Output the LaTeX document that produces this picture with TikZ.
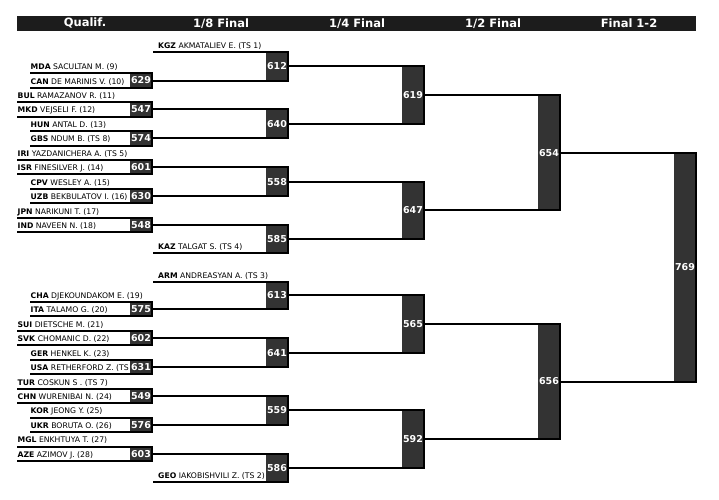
\documentclass[tikz,border=0pt]{standalone}
\usepackage{fontspec}
\setmainfont{DejaVu Sans}
\usetikzlibrary{fit}

\definecolor{barblack}{HTML}{1C1C1C}
\definecolor{boxgray}{HTML}{333333}

\tikzset{
    player/.style={anchor=south west, inner xsep=0.5pt, inner ysep=3.5pt, text depth=0pt, font=\fontsize{7.7}{9}\selectfont},
    seeded/.style={player, inner xsep=5pt},
    gamebox/.style={fill=boxgray, minimum width=22pt, outer sep=0pt},
    gamenum/.style={inner sep=0pt, text=white, font=\bfseries\fontsize{9.5}{10}\selectfont},
    bracket/.style={line width=2pt},
    colhead/.style={text=white, font=\bfseries\fontsize{11.5}{12}\selectfont}
}

% box of a bout, then the bracket that feeds it
\newcommand{\game}[5]{%
    \node[inner sep=0pt, fit={(#3 -| #2)(#4 -| #2)}, gamebox, label={[gamenum]center:#5}] (#1) {};
    \draw[bracket] (#3) -- (#3 -| #1.east) |- (#4);
}

\begin{document}
\begin{tikzpicture}[x=1pt, y=-1pt]
    \useasboundingbox (0,0) rectangle (719,499);

    % Header
    \node[fill=barblack, minimum width=679pt, minimum height=14.5pt, inner sep=0pt, anchor=north west] (bar) at (17,16) {};
    \foreach \cx/\lbl [count=\c] in {85/Qualif., 221/{1/8 Final}, 357/{1/4 Final}, 493/{1/2 Final}, 629/{Final 1-2}}
        \node[colhead] (head\c) at (\cx,23.2) {\lbl};

    % box columns
    \coordinate (k1) at (141,0);
    \coordinate (k2) at (277,0);
    \coordinate (k3) at (413,0);
    \coordinate (k4) at (549,0);
    \coordinate (k5) at (685,0);

    % Qualification, upper half
    \foreach \x/\cc/\who [count=\k from 0] in {30/MDA/SACULTAN M. (9), 30/CAN/DE MARINIS V. (10), 17/BUL/RAMAZANOV R. (11), 17/MKD/VEJSELI F. (12), 30/HUN/ANTAL D. (13), 30/GBS/NDUM B. (TS 8), 17/IRI/YAZDANICHERA A. (TS 5), 17/ISR/FINESILVER J. (14), 30/CPV/WESLEY A. (15), 30/UZB/BEKBULATOV I. (16), 17/JPN/NARIKUNI T. (17), 17/IND/NAVEEN N. (18)}
        \node[player] (\cc) at (\x,{73.3+14.45*\k}) {\textbf{\cc} \who};

    % Qualification, lower half
    \foreach \x/\cc/\who [count=\k from 0] in {30/CHA/DJEKOUNDAKOM E. (19), 30/ITA/TALAMO G. (20), 17/SUI/DIETSCHE M. (21), 17/SVK/CHOMANIC D. (22), 30/GER/HENKEL K. (23), 30/USA/RETHERFORD Z. (TS, 17/TUR/COSKUN S . (TS 7), 17/CHN/WURENIBAI N. (24), 30/KOR/JEONG Y. (25), 30/UKR/BORUTA O. (26), 17/MGL/ENKHTUYA T. (27), 17/AZE/AZIMOV J. (28)}
        \node[player] (\cc) at (\x,{302+14.45*\k}) {\textbf{\cc} \who};

    % Seeds straight into 1/8
    \node[seeded] (KGZ) at (153,51.7) {\textbf{KGZ} AKMATALIEV E. (TS 1)};
    \node[seeded] (KAZ) at (153,253) {\textbf{KAZ} TALGAT S. (TS 4)};
    \node[seeded] (ARM) at (153,281.7) {\textbf{ARM} ANDREASYAN A. (TS 3)};
    \node[seeded] (GEO) at (153,481.7) {\textbf{GEO} IAKOBISHVILI Z. (TS 2)};

    % Qualif.
    \foreach \n/\a/\b in {629/MDA/CAN, 547/BUL/MKD, 574/HUN/GBS, 601/IRI/ISR, 630/CPV/UZB, 548/JPN/IND, 575/CHA/ITA, 602/SUI/SVK, 631/GER/USA, 549/TUR/CHN, 576/KOR/UKR, 603/MGL/AZE}
        {\game{g\n}{k1}{\a.south west}{\b.south west}{\n}}

    % 1/8 Final
    \foreach \n/\a/\b in {612/KGZ.south west/g629.east, 640/g547.east/g574.east, 558/g601.east/g630.east, 585/g548.east/KAZ.south west, 613/ARM.south west/g575.east, 641/g602.east/g631.east, 559/g549.east/g576.east, 586/g603.east/GEO.south west}
        {\game{g\n}{k2}{\a}{\b}{\n}}

    % 1/4 Final
    \foreach \n/\a/\b in {619/g612/g640, 647/g558/g585, 565/g613/g641, 592/g559/g586}
        {\game{g\n}{k3}{\a.east}{\b.east}{\n}}

    % 1/2 Final
    \game{g654}{k4}{g619.east}{g647.east}{654}
    \game{g656}{k4}{g565.east}{g592.east}{656}

    % Final
    \game{g769}{k5}{g654.east}{g656.east}{769}
\end{tikzpicture}
\end{document}
